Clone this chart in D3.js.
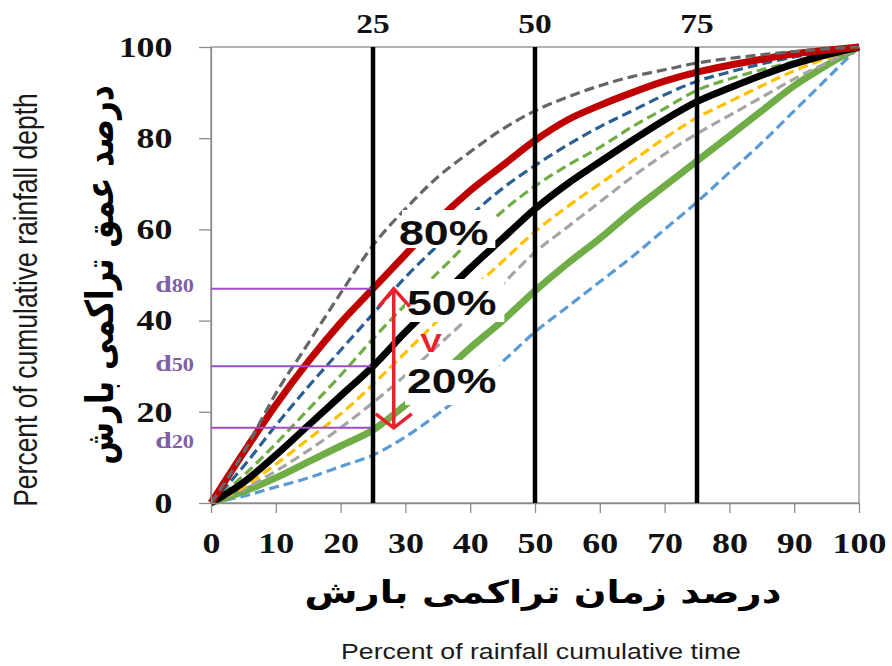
<!DOCTYPE html>
<html>
<head>
<meta charset="utf-8">
<script src="https://cdn.jsdelivr.net/npm/d3@7"></script>
<style>
  body { margin: 0; background: #fff; }
  svg { display: block; }
</style>
</head>
<body>
<svg id="chart" width="892" height="666"></svg>
<script>
// percent of cumulative time
const timePct = [0,5,10,15,20,25,30,35,40,45,50,55,60,65,70,75,80,85,90,95,100]

// percent of cumulative depth, one array per curve
const darkGrayDash  = [0,11,24,35,46,56.5,64.5,71.5,77,82,86,89,91.5,93.5,95,96.5,97.5,98.3,99,99.6,100]
const redSolid      = [0,11,21.5,31,39.5,47,54.5,62,68.5,74,79.5,84,87.2,90,92.5,94.5,96,97.3,98.5,99.3,100]
const darkBlueDash  = [0,8,17,25.5,33.5,41.5,49.5,56.5,63,69,74,78.5,82.5,86,89.5,92.5,94.5,96.3,97.8,99,100]
const greenDash     = [0,6,13,20.5,28,36,43.5,50.5,57.5,64,69.5,74,78,82.5,86.5,90.5,93,95,96.8,98.5,100]
const blackSolid    = [0,4.5,10.5,17,23.5,30,37.5,44.5,51.5,58,64.5,70,74.8,79.5,84,88,91,93.8,96.3,98.3,100]
const yellowDash    = [0,3.5,8.5,14,19.5,26,33,40,46.5,53,59.5,65,70,75,80,84.5,88,91.5,94.8,97.5,100]
const lightGrayDash = [0,3,7,11.5,16.5,22,28,34.5,41,48,55,60.5,66,71.5,76.5,81,85,89,93,96.5,100]
const greenSolid    = [0,2.5,5.5,9,12.5,16,21.5,27.5,34,40,46.5,52.5,58,64,69.5,75,80.5,86,91.5,96,100]
const lightBlueDash = [0,1.5,3.5,5.5,8,10.5,14.5,19.5,25,31,37.5,43,48.5,54,60,66,72.5,79,86,93,100]

const xTicks = [0,10,20,30,40,50,60,70,80,90,100]
const yTicks = [0,20,40,60,80,100]
const quartiles = [25,50,75]
const dLevels = [47,30,16.5]
const dNames = ['80','50','20']
const arrowAt = 28.2

const series = [
  {values: lightBlueDash, color: '#5b9bd5', width: 3.2, dash: '10,5'},
  {values: greenSolid, color: '#70ad47', width: 7},
  {values: lightGrayDash, color: '#a5a5a5', width: 3.2, dash: '10,5'},
  {values: yellowDash, color: '#ffc000', width: 3.2, dash: '10,5'},
  {values: greenDash, color: '#70ad47', width: 3.2, dash: '10,5'},
  {values: darkBlueDash, color: '#2a5f93', width: 3.2, dash: '10,5'},
  {values: blackSolid, color: '#000000', width: 7},
  {values: redSolid, color: '#c00000', width: 7},
  {values: darkGrayDash, color: '#666666', width: 3.2, dash: '10,5'}
]

const SX = 1.24  // the reference glyphs are stretched sideways
const svg = d3.select('#chart')
const x = d3.scaleLinear().domain([0,100]).range([211,859])
const y = d3.scaleLinear().domain([0,100]).range([503,47])

svg.append('rect').attr('width',892).attr('height',666).attr('fill','#fff')

// frame
svg.append('rect')
  .attr('x',x(0)).attr('y',y(100))
  .attr('width',x(100)-x(0)).attr('height',y(0)-y(100))
  .attr('fill','none').attr('stroke','#8c8c8c').attr('stroke-width',1.3)

const line = d3.line()
  .x((d,i) => x(timePct[i]))
  .y(d => y(d))
  .curve(d3.curveMonotoneX)

const g = svg.append('g')
series.forEach(s => {
  g.append('path')
    .attr('d', line(s.values))
    .attr('fill','none')
    .attr('stroke', s.color)
    .attr('stroke-width', s.width)
    .attr('stroke-dasharray', s.dash || null)
    .attr('stroke-linejoin','round')
})

// axes
const xAxis = svg.append('g')
  .attr('transform',`translate(0,${y(0)})`)
  .call(d3.axisBottom(x).tickValues(xTicks).tickSize(10).tickPadding(19).tickSizeOuter(0))
const yAxis = svg.append('g')
  .attr('transform',`translate(${x(0)},0)`)
  .call(d3.axisLeft(y).tickValues(yTicks).tickSize(12).tickPadding(17).tickSizeOuter(0))

;[xAxis, yAxis].forEach(a => {
  a.select('.domain').attr('stroke','#8c8c8c').attr('stroke-width',1.3)
  a.selectAll('.tick line').attr('stroke','#8c8c8c').attr('stroke-width',1.3)
  a.selectAll('.tick text')
    .attr('fill','#111')
    .style('font-family','"Liberation Serif", serif')
    .style('font-weight','bold')
    .style('font-size','29px')
    .attr('transform',`scale(${SX},1)`)
})
yAxis.selectAll('.tick text').attr('x', -31)

// helper for stretched text
function label(txt, px, py, opts) {
  const o = Object.assign({size: 20, family: '"Liberation Sans", Arial, sans-serif', weight: 'normal',
    anchor: 'middle', color: '#111', rotate: 0}, opts)
  return svg.append('text')
    .attr('transform', `translate(${px},${py}) scale(${SX},1)` + (o.rotate ? ` rotate(${o.rotate})` : ''))
    .attr('text-anchor', o.anchor)
    .attr('fill', o.color)
    .style('font-family', o.family)
    .style('font-weight', o.weight)
    .style('font-size', o.size + 'px')
    .text(txt)
}

// purple level lines at the 25% time
dLevels.forEach(v => {
  svg.append('line')
    .attr('x1',x(0)).attr('x2',x(25))
    .attr('y1',y(v)).attr('y2',y(v))
    .attr('stroke','#a04cc4').attr('stroke-width',2)
})
const dOffsets = [3,5,20]
dLevels.forEach((v,i) => {
  const t = svg.append('text')
    .attr('transform',`translate(194,${y(v)+dOffsets[i]}) scale(${SX},1)`)
    .attr('text-anchor','end')
    .attr('fill','#7f5fa5')
    .style('font-family','"Liberation Serif", serif')
    .style('font-weight','bold')
  t.append('tspan').style('font-size','24px').text('d')
  t.append('tspan').style('font-size','18px').text(dNames[i])
})

// percentile labels with white boxes (left, right, top, bottom padding)
const pLabels = [
  {txt: '80%', x: 399, y: 245, pad: [-3,7,9,3]},
  {txt: '50%', x: 407, y: 315, pad: [2,8,10,7]},
  {txt: '20%', x: 407, y: 393, pad: [2,3,7,12]}
]
pLabels.forEach(p => {
  const bg = svg.append('rect').attr('fill','#fff')
  const t = label(p.txt, p.x, p.y, {size: 36, weight: 'bold', anchor: 'start', color: '#0d0d0d'})
  const b = t.node().getBBox()
  const top = p.y - 26
  bg.attr('x', p.x - p.pad[0]).attr('y', top - p.pad[2])
    .attr('width', b.width*SX + p.pad[0] + p.pad[1])
    .attr('height', 26 + p.pad[2] + p.pad[3])
  t.raise()
})

// quartile lines
quartiles.forEach(q => {
  svg.append('line')
    .attr('x1',x(q)).attr('x2',x(q))
    .attr('y1',y(100)).attr('y2',y(0))
    .attr('stroke','#000').attr('stroke-width',4.5)
  label(q, x(q), 33, {size: 27, family: '"Liberation Serif", serif', weight: 'bold'})
})

// red double arrow between d80 and d20
const ax = x(arrowAt), aTop = y(dLevels[0]), aBot = y(dLevels[2])
svg.append('line').attr('x1',ax).attr('x2',ax).attr('y1',aTop).attr('y2',aBot)
  .attr('stroke','#e8222c').attr('stroke-width',3.5)
svg.append('path').attr('d',`M${ax-15},${aTop+18}L${ax},${aTop}L${ax+16},${aTop+18}`)
  .attr('fill','none').attr('stroke','#e8222c').attr('stroke-width',3.5)
svg.append('path').attr('d',`M${ax-18},${aBot-14}L${ax},${aBot}L${ax+18},${aBot-14}`)
  .attr('fill','none').attr('stroke','#e8222c').attr('stroke-width',3.5)
label('V', 431, 352, {size: 26, weight: 'bold', color: '#e8222c'})

// axis titles
label('درصد زمان تراکمی بارش', 543, 603, {size: 31, family: '"DejaVu Sans", sans-serif', weight: 'bold', color: '#000'})
label('Percent of rainfall cumulative time', 541, 659, {size: 21.5, color: '#1a1a1a'})
label('درصد عمق تراکمی بارش', 113, 275, {size: 31, family: '"DejaVu Sans", sans-serif', weight: 'bold', color: '#000', rotate: -90})
label('Percent of cumulative rainfall depth', 37, 300, {size: 26.5, color: '#1a1a1a', rotate: -90})
</script>
</body>
</html>
